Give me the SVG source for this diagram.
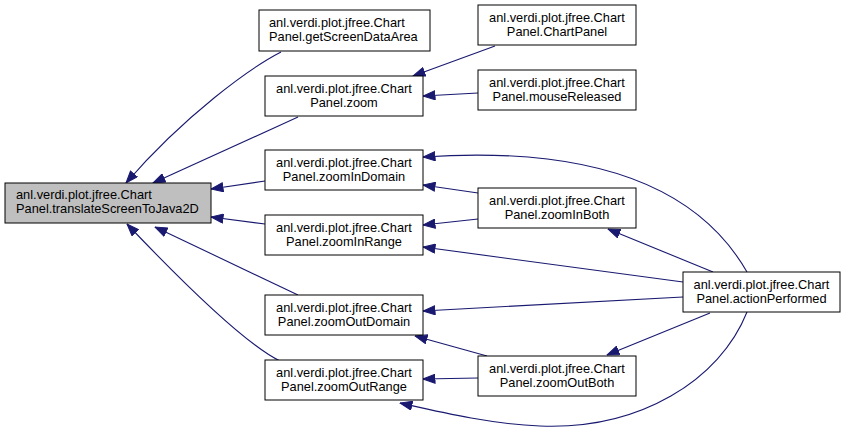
<svg xmlns="http://www.w3.org/2000/svg" width="847" height="431" viewBox="0 0 847 431">
<style>
.node rect{fill:#ffffff;stroke:#000000;stroke-width:1}
.node.root rect{fill:#bfbfbf}
.node text{font-family:"Liberation Sans",Arial,sans-serif;font-size:12.8px;fill:#000000}
.c{text-anchor:middle}
.l{text-anchor:start}
.edges path{fill:none;stroke:#191970;stroke-width:1.1;marker-end:url(#arrow)}
</style>
<defs>
<marker id="arrow" markerUnits="userSpaceOnUse" markerWidth="13" markerHeight="10" viewBox="0 0 13 10" refX="12.5" refY="5" orient="auto">
<path d="M0.5,0.5 L12.5,5 L0.5,9.5 z" fill="#191970" stroke="#191970" stroke-width="1"/>
</marker>
</defs>
<rect width="847" height="431" fill="#ffffff"/>
<g class="edges">
<path d="M281,52 C250,68 185,115 126,183"/>
<path d="M298,117 L153,183"/>
<path d="M265,181 L211,189"/>
<path d="M265,224 L211,217"/>
<path d="M298,295 L155,227"/>
<path d="M280,361 C245,344 185,285 127,224"/>
<path d="M495,46 L413,76"/>
<path d="M478,93 L423,96"/>
<path d="M747,272 C700,190 600,145 423,157"/>
<path d="M478,193 L423,185"/>
<path d="M478,219 L423,225"/>
<path d="M713,272 L608,229"/>
<path d="M683,282 L423,247"/>
<path d="M683,297 L423,311"/>
<path d="M710,313 L607,355"/>
<path d="M487,356 L415,336"/>
<path d="M478,378 L423,379"/>
<path d="M747,312 C720,380 640,430 540,426 C490,424 440,412 400,403"/>
</g>
<g id="node_translateScreenToJava2D" class="node root">
<rect x="5" y="183" width="206" height="40"/>
<text class="l" x="16" y="199">anl.verdi.plot.jfree.Chart</text>
<text class="l" x="16" y="213">Panel.translateScreenToJava2D</text>
</g>
<g id="node_getScreenDataArea" class="node">
<rect x="259" y="10" width="171" height="41"/>
<text class="l" x="269" y="26.5">anl.verdi.plot.jfree.Chart</text>
<text class="l" x="269" y="40.5">Panel.getScreenDataArea</text>
</g>
<g id="node_zoom" class="node">
<rect x="265" y="76" width="158" height="40"/>
<text class="c" x="344" y="92.5">anl.verdi.plot.jfree.Chart</text>
<text class="c" x="344" y="106.5">Panel.zoom</text>
</g>
<g id="node_zoomInDomain" class="node">
<rect x="265" y="150" width="158" height="40"/>
<text class="c" x="344" y="166.5">anl.verdi.plot.jfree.Chart</text>
<text class="c" x="344" y="180.5">Panel.zoomInDomain</text>
</g>
<g id="node_zoomInRange" class="node">
<rect x="265" y="215" width="158" height="40"/>
<text class="c" x="344" y="231.5">anl.verdi.plot.jfree.Chart</text>
<text class="c" x="344" y="245.5">Panel.zoomInRange</text>
</g>
<g id="node_zoomOutDomain" class="node">
<rect x="265" y="295" width="158" height="40"/>
<text class="c" x="344" y="311.5">anl.verdi.plot.jfree.Chart</text>
<text class="c" x="344" y="325.5">Panel.zoomOutDomain</text>
</g>
<g id="node_zoomOutRange" class="node">
<rect x="265" y="360" width="158" height="40"/>
<text class="c" x="344" y="376.5">anl.verdi.plot.jfree.Chart</text>
<text class="c" x="344" y="390.5">Panel.zoomOutRange</text>
</g>
<g id="node_ChartPanel" class="node">
<rect x="478" y="5" width="158" height="40"/>
<text class="c" x="557" y="21.5">anl.verdi.plot.jfree.Chart</text>
<text class="c" x="557" y="35.5">Panel.ChartPanel</text>
</g>
<g id="node_mouseReleased" class="node">
<rect x="478" y="70" width="158" height="40"/>
<text class="c" x="557" y="86.5">anl.verdi.plot.jfree.Chart</text>
<text class="c" x="557" y="100.5">Panel.mouseReleased</text>
</g>
<g id="node_zoomInBoth" class="node">
<rect x="478" y="188" width="158" height="40"/>
<text class="c" x="557" y="204.5">anl.verdi.plot.jfree.Chart</text>
<text class="c" x="557" y="218.5">Panel.zoomInBoth</text>
</g>
<g id="node_zoomOutBoth" class="node">
<rect x="478" y="356" width="158" height="40"/>
<text class="c" x="557" y="372.5">anl.verdi.plot.jfree.Chart</text>
<text class="c" x="557" y="386.5">Panel.zoomOutBoth</text>
</g>
<g id="node_actionPerformed" class="node">
<rect x="683" y="272" width="157" height="40"/>
<text class="c" x="761.5" y="288.5">anl.verdi.plot.jfree.Chart</text>
<text class="c" x="761.5" y="302.5">Panel.actionPerformed</text>
</g>
</svg>
